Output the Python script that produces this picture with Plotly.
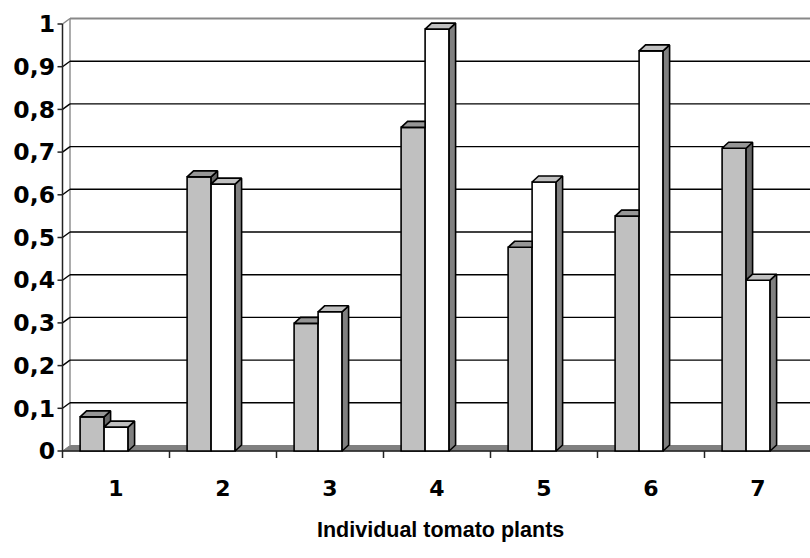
import plotly.graph_objects as go

# ---------------- data ----------------
plants = ["1", "2", "3", "4", "5", "6", "7"]
series_grey = [0.080, 0.642, 0.299, 0.758, 0.477, 0.550, 0.709]
series_white = [0.056, 0.625, 0.326, 0.988, 0.630, 0.937, 0.400]
y_tick_values = [0, 0.1, 0.2, 0.3, 0.4, 0.5, 0.6, 0.7, 0.8, 0.9, 1.0]
y_tick_labels = ["0", "0,1", "0,2", "0,3", "0,4", "0,5", "0,6", "0,7", "0,8", "0,9", "1"]
x_title = "Individual tomato plants"

# ---------------- geometry (in axis units) ----------------
W, H = 810, 558
PL, PR, PT, PB = 56, 810, 14, 461          # plot area in pixels
PXX = 107.0                                 # pixels per category
PXY = 427.0                                 # pixels per unit value
X0PIX, Y0PIX = 62.5, 451.0                  # pixel position of x=0.5 / y=0
xr0 = 0.5 - (X0PIX - PL) / PXX
xr1 = 0.5 + (PR - X0PIX) / PXX
yr0 = -(PB - Y0PIX) / PXY
yr1 = 1 + (24 - PT) / PXY

WDX, WDY = 7.5 / PXX, 5.5 / PXY             # wall depth
BDX, BDY = 6.5 / PXX, 6.0 / PXY             # bar depth
BW = 24.0 / PXX                             # bar width
OFF_G = -0.5 + 17.6 / PXX                   # offset of grey bar
OFF_W = OFF_G + BW
XL = 0.5
XMAX = xr1 + 0.1

xs = list(range(1, len(plants) + 1))

fig = go.Figure()

fig.add_trace(go.Bar(x=xs, y=series_grey, width=BW, offset=OFF_G,
                     marker=dict(color="#C0C0C0", line=dict(color="black", width=1.6)),
                     name="grey", showlegend=False, hoverinfo="skip"))
fig.add_trace(go.Bar(x=xs, y=series_white, width=BW, offset=OFF_W,
                     marker=dict(color="#FFFFFF", line=dict(color="black", width=1.6)),
                     name="white", showlegend=False, hoverinfo="skip"))

# 3D faces
g_top_x, g_top_y, g_side_x, g_side_y = [], [], [], []
w_top_x, w_top_y, w_side_x, w_side_y = [], [], [], []
for i, vg, vw in zip(xs, series_grey, series_white):
    gl, gr = i + OFF_G, i + OFF_G + BW
    wl, wr = i + OFF_W, i + OFF_W + BW
    if vg >= vw:
        g_top_x += [gl, gl + BDX, gr + BDX, gr, gl, None]
        g_top_y += [vg, vg + BDY, vg + BDY, vg, vg, None]
        g_side_x += [gr, gr, gr + BDX, gr + BDX, gr, None]
        g_side_y += [vw, vg, vg + BDY, vw + BDY, vw, None]
    else:
        g_top_x += [gl, gl + BDX, gr, gr, gl, None]
        g_top_y += [vg, vg + BDY, vg + BDY, vg, vg, None]
    w_top_x += [wl, wl + BDX, wr + BDX, wr, wl, None]
    w_top_y += [vw, vw + BDY, vw + BDY, vw, vw, None]
    w_side_x += [wr, wr, wr + BDX, wr + BDX, wr, None]
    w_side_y += [0, vw, vw + BDY, BDY, 0, None]

for fx, fy, col in [(g_side_x, g_side_y, "#666666"), (g_top_x, g_top_y, "#969696"),
                    (w_side_x, w_side_y, "#808080"), (w_top_x, w_top_y, "#C0C0C0")]:
    fig.add_trace(go.Scatter(x=fx, y=fy, mode="lines", fill="toself", fillcolor=col,
                             line=dict(color="black", width=1.6), showlegend=False,
                             hoverinfo="skip"))

# walls, floor, gridlines, axes
shapes = []
shapes.append(dict(type="path", layer="below",
                   path=f"M {XL},0 L {XL+WDX},{WDY} L {XMAX},{WDY} L {XMAX},0 Z",
                   fillcolor="#808080", line=dict(color="#808080", width=1)))
shapes.append(dict(type="line", layer="below", x0=XL + WDX, y0=WDY, x1=XL + WDX, y1=1 + WDY,
                   line=dict(color="#909090", width=1.5)))
for v in y_tick_values[1:-1]:
    shapes.append(dict(type="line", layer="below", x0=XL + WDX, y0=v + WDY, x1=XMAX, y1=v + WDY,
                       line=dict(color="black", width=1.4)))
    shapes.append(dict(type="line", layer="below", x0=XL, y0=v, x1=XL + WDX, y1=v + WDY,
                       line=dict(color="black", width=1.4)))
shapes.append(dict(type="line", layer="below", x0=XL + WDX, y0=1 + WDY, x1=XMAX, y1=1 + WDY,
                   line=dict(color="#888888", width=2.2)))
shapes.append(dict(type="line", layer="below", x0=XL, y0=1, x1=XL + WDX, y1=1 + WDY,
                   line=dict(color="#888888", width=1.5)))
shapes.append(dict(type="line", layer="below", x0=XL, y0=0, x1=XMAX, y1=0,
                   line=dict(color="#222222", width=1.5)))
shapes.append(dict(type="line", layer="below", x0=XL, y0=-7 / PXY, x1=XL, y1=1,
                   line=dict(color="#222222", width=1.5)))
for v in y_tick_values:
    shapes.append(dict(type="line", layer="below", x0=XL - 5 / PXX, y0=v, x1=XL, y1=v,
                       line=dict(color="#222222", width=1.5)))
for b in [k + 0.5 for k in range(1, len(plants) + 1)]:
    shapes.append(dict(type="line", layer="below", x0=b, y0=0, x1=b, y1=-7 / PXY,
                       line=dict(color="#222222", width=1.5)))

FONT = "DejaVu Sans, Liberation Sans, Arial"
TITLEFONT = "Liberation Sans, Arial, DejaVu Sans"
fig.update_layout(
    width=W, height=H,
    margin=dict(l=PL, r=W - PR, t=PT, b=H - PB, pad=0, autoexpand=False),
    paper_bgcolor="white", plot_bgcolor="white",
    barmode="overlay", showlegend=False,
    shapes=shapes,
    font=dict(family=FONT, size=18, color="black", weight="bold"),
    xaxis=dict(range=[xr0, xr1], tickmode="array", tickvals=xs, ticktext=plants,
               showgrid=False, zeroline=False, showline=False, ticks="", automargin=False,
               ticklabelstandoff=12,
               tickfont=dict(family=FONT, size=22, color="black", weight="bold")),
    yaxis=dict(range=[yr0, yr1], tickmode="array", tickvals=y_tick_values, ticktext=y_tick_labels,
               showgrid=False, zeroline=False, showline=False, ticks="", automargin=False,
               ticklabelstandoff=0,
               tickfont=dict(family=FONT, size=23.5, color="black", weight="bold")),
    annotations=[dict(text=x_title, xref="paper", yref="paper",
                      x=(440 - PL) / (PR - PL), y=(PB - 530) / (PB - PT),
                      xanchor="center", yanchor="middle", showarrow=False,
                      font=dict(family=TITLEFONT, size=21.5, color="black", weight="bold"))],
)

fig.write_html("out.html", config={"displayModeBar": False},
               post_script="document.body.style.margin='0';")
